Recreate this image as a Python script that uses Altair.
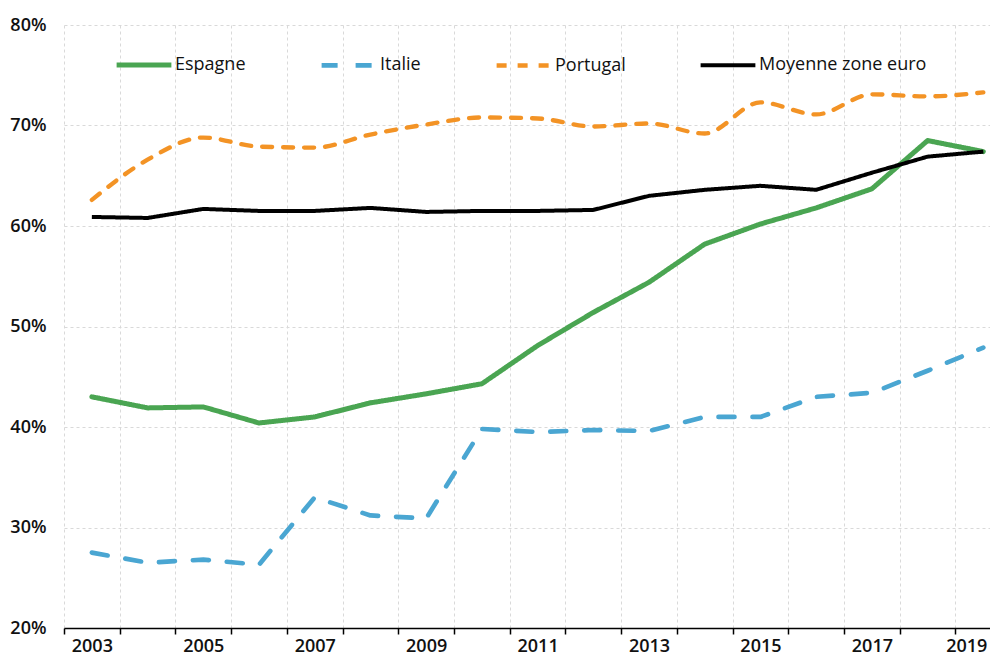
import altair as alt
import pandas as pd

years = list(range(2003, 2020))
series_names = ["Espagne", "Italie", "Portugal", "Moyenne zone euro"]

espagne = [43.0, 41.9, 42.0, 40.4, 41.0, 42.4, 43.3, 44.3, 48.1, 51.4, 54.4, 58.2, 60.2, 61.8, 63.7, 68.5, 67.4]
italie = [27.5, 26.5, 26.8, 26.3, 33.0, 31.2, 30.9, 39.8, 39.5, 39.7, 39.6, 41.0, 41.0, 43.0, 43.4, 45.6, 47.9]
portugal = [62.6, 66.6, 68.8, 67.9, 67.8, 69.1, 70.1, 70.8, 70.7, 69.9, 70.2, 69.2, 72.3, 71.1, 73.1, 72.9, 73.3]
moyenne = [60.9, 60.8, 61.7, 61.5, 61.5, 61.8, 61.4, 61.5, 61.5, 61.6, 63.0, 63.6, 64.0, 63.6, 65.3, 66.9, 67.4]

colors = ["#4aa552", "#4aa6d2", "#f39325", "#000000"]
dashes = [[1, 0], [16, 18], [10, 11], [1, 0]]
widths = [5, 4, 4.5, 1.8]

y_ticks = [20, 30, 40, 50, 60, 70, 80]
x_tick_values = [2002.5 + 0.5 * i for i in range(34)]

rows = []
for name, vals in zip(series_names, [espagne, italie, portugal, moyenne]):
    for yr, v in zip(years, vals):
        rows.append({"annee": yr, "part": v, "serie": name})
df = pd.DataFrame(rows)

legend = alt.Legend(
    title=None, orient="none", direction="horizontal", legendX=50, legendY=10,
    symbolType="stroke", symbolSize=3000, labelFont="Open Sans", labelFontSize=18,
    labelColor="#111111", columnPadding=66, labelOffset=1, padding=0, columns=4,
    labelLimit=400,
)

x_enc = alt.X(
    "annee:Q",
    scale=alt.Scale(domain=[2002.5, 2019.12], nice=False, zero=False),
    axis=alt.Axis(
        title=None, values=x_tick_values,
        labelExpr="(datum.value % 2 == 1) ? ('' + datum.value) : ''",
        labelOverlap=False, labelFlush=False, labelBound=False,
        labelFont="Open Sans", labelFontWeight=600, labelFontSize=18,
        labelColor="#111111", labelPadding=3,
        labelOffset={"condition": {"test": "datum.value == 2019", "value": -17}, "value": 0},
        tickSize=6, tickColor="#000000", tickWidth=1.5,
        tickOpacity={"condition": {"test": "datum.value % 1 == 0", "value": 0}, "value": 1},
        grid=True, gridColor="#d9d9d9", gridDash=[3, 3], gridWidth=1,
        gridOpacity={"condition": {"test": "datum.value % 1 == 0", "value": 0}, "value": 1},
        domainColor="#000000", domainWidth=1.5,
    ),
)
y_enc = alt.Y(
    "part:Q",
    scale=alt.Scale(domain=[20, 80], nice=False, zero=False),
    axis=alt.Axis(
        title=None, values=y_ticks, labelExpr="datum.value + '%'",
        labelFont="Open Sans", labelFontWeight=600, labelFontSize=18,
        labelColor="#111111", labelPadding=18, ticks=False, domain=False,
        grid=True, gridColor="#d9d9d9", gridDash=[3, 3], gridWidth=1,
    ),
)
color_enc = alt.Color("serie:N", scale=alt.Scale(domain=series_names, range=colors), legend=legend, sort=series_names)
dash_enc = alt.StrokeDash("serie:N", scale=alt.Scale(domain=series_names, range=dashes), legend=legend, sort=series_names)
width_enc = alt.StrokeWidth("serie:N", scale=alt.Scale(domain=series_names, range=widths), legend=legend, sort=series_names)

base = alt.Chart(df).encode(x=x_enc, y=y_enc, color=color_enc, strokeDash=dash_enc, strokeWidth=width_enc)

lin_a = base.transform_filter(alt.FieldOneOfPredicate(field="serie", oneOf=["Espagne", "Italie"])).mark_line(strokeCap="round", strokeJoin="round")
smooth = base.transform_filter(alt.FieldEqualPredicate(field="serie", equal="Portugal")).mark_line(strokeCap="round", strokeJoin="round", interpolate="monotone")
lin_b = base.transform_filter(alt.FieldEqualPredicate(field="serie", equal="Moyenne zone euro")).mark_line(strokeCap="butt", strokeJoin="round")

chart = alt.layer(lin_a, smooth, lin_b).properties(
    width=926, height=603,
    autosize=alt.AutoSizeParams(type="none"),
    padding={"left": 56, "top": 17, "right": 0, "bottom": 29},
    background="white",
).configure_view(stroke=None)

chart.save("out.html", embed_options={"renderer": "svg", "actions": False})
